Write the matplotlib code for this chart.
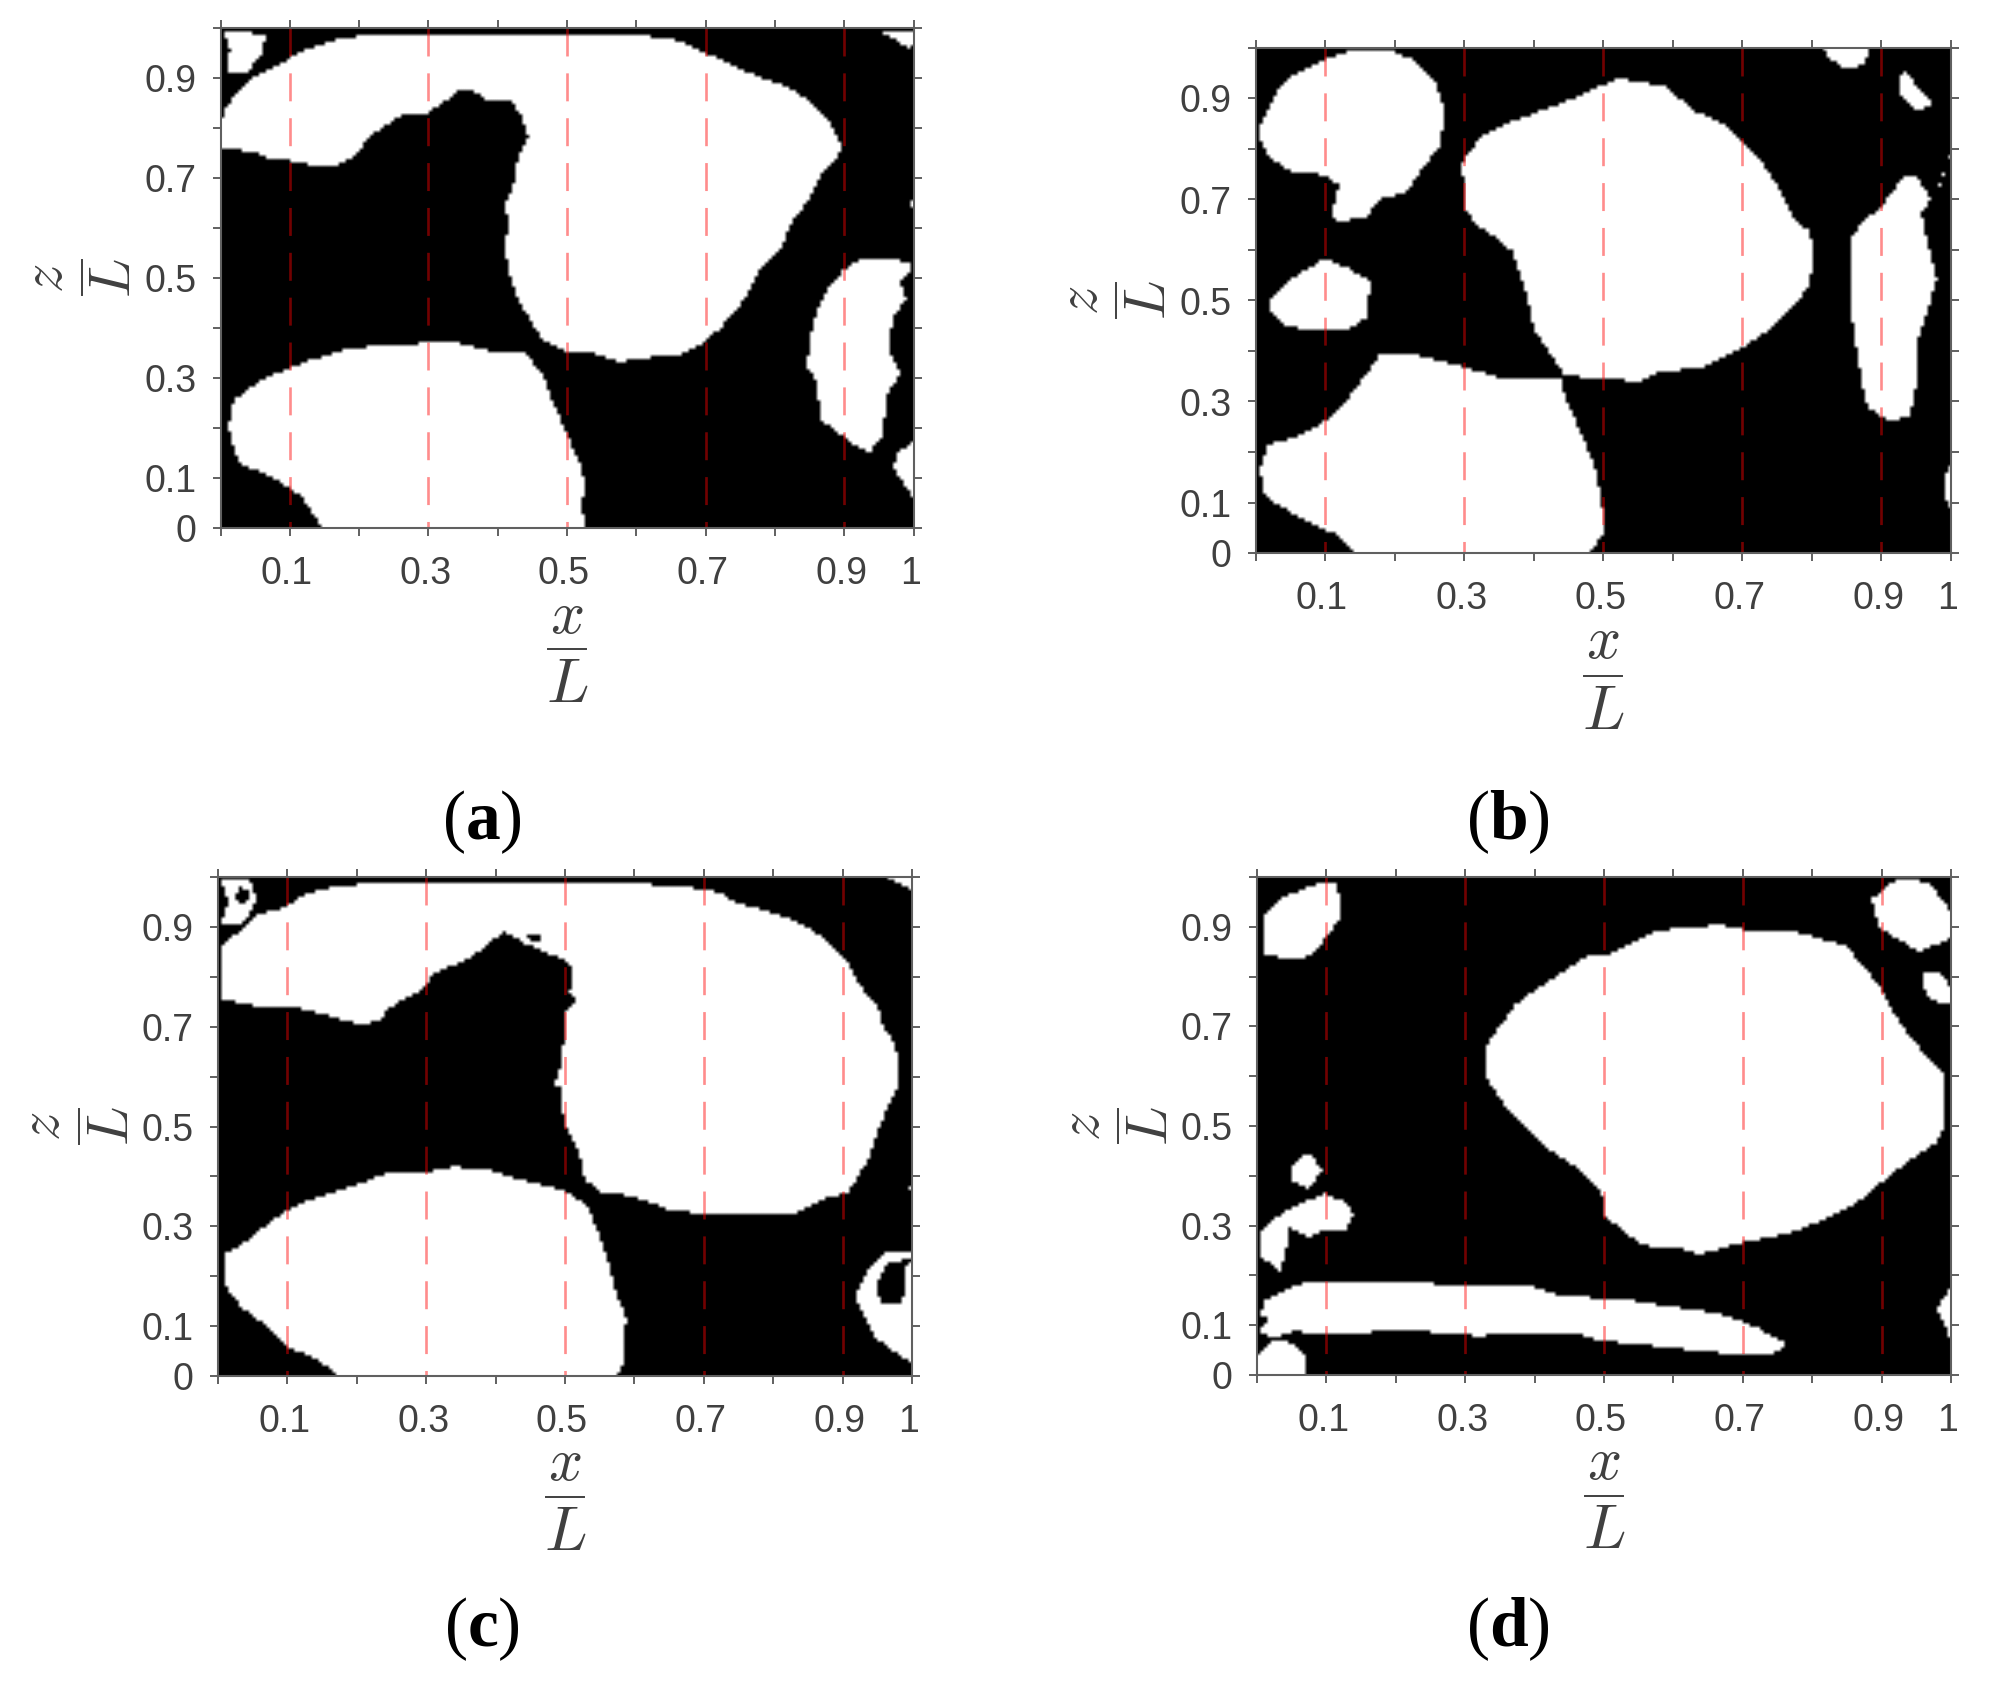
import matplotlib
matplotlib.use("Agg")
import matplotlib.pyplot as plt
from matplotlib.path import Path
from matplotlib.transforms import ScaledTranslation
import numpy as np

plt.rcParams["font.family"] = "Liberation Sans"
plt.rcParams["mathtext.fontset"] = "custom"
plt.rcParams["mathtext.bf"] = "Liberation Serif:bold"
plt.rcParams["mathtext.rm"] = "Liberation Serif"

GREY = "#404040"

# outlines of the white regions, in x/L , z/L
a_main = [(0,.757),(.049,.754),(.071,.737),(.097,.735),(.132,.726),(.163,.721),(.194,.743),(.212,.781),(.234,.801),(.260,.825),(.296,.827),(.322,.852),(.344,.874),(.371,.872),(.380,.854),(.419,.852),(.432,.830),(.443,.781),(.428,.737),(.422,.682),(.410,.644),(.415,.617),(.410,.551),(.419,.496),(.428,.458),(.446,.419),(.463,.376),(.499,.354),(.543,.348),(.574,.332),(.627,.343),(.662,.345),(.697,.370),(.719,.398),(.741,.430),(.763,.474),(.781,.524),(.808,.556),(.821,.606),(.847,.655),(.865,.704),(.887,.737),(.896,.765),(.878,.814),(.852,.852),(.821,.880),(.768,.907),(.733,.929),(.697,.951),(.653,.978),(.600,.986),(.212,.986),(.168,.978),(.119,.956),(.093,.934),(.053,.907),(.026,.874),(.004,.836),(0,.803)]
a_low = [(.147,0),(.132,.031),(.115,.064),(.093,.085),(.057,.113),(.026,.129),(.016,.168),(.011,.206),(.019,.255),(.044,.283),(.071,.304),(.097,.319),(.132,.337),(.185,.359),(.229,.365),(.300,.370),(.344,.370),(.388,.354),(.437,.352),(.463,.310),(.481,.244),(.499,.189),(.516,.135),(.525,.091),(.521,.047),(.525,0)]
a_right = [(.900,.518),(.918,.534),(.953,.540),(.997,.531),(.997,.518),(.980,.496),(.988,.458),(.971,.425),(.962,.365),(.980,.310),(.962,.266),(.953,.179),(.935,.151),(.913,.168),(.865,.217),(.860,.288),(.847,.321),(.848,.365),(.856,.419),(.878,.485)]
a_tl = [(.004,.995),(.066,.987),(.057,.945),(.035,.907),(.009,.907),(.013,.956)]
a_tr = [(.951,.995),(1,.995),(.997,.956),(.971,.978)]
a_br = [(1,.173),(.975,.151),(.971,.118),(.988,.085),(1,.053)]
a_edge = [(.992,.650),(1,.66),(1,.635)]

b_tl = [(.004,.840),(.013,.867),(.031,.916),(.053,.943),(.098,.976),(.133,.990),(.196,.992),(.231,.971),(.258,.933),(.271,.873),(.265,.802),(.240,.764),(.218,.715),(.178,.699),(.160,.666),(.116,.652),(.108,.672),(.120,.726),(.098,.748),(.053,.750),(.027,.775),(.009,.802)]
b_mid = [(.020,.498),(.044,.536),(.098,.582),(.133,.563),(.164,.536),(.160,.465),(.133,.443),(.080,.438),(.036,.454),(.020,.476)]
b_main = [(.295,.770),(.324,.824),(.364,.851),(.418,.878),(.467,.905),(.520,.938),(.587,.922),(.631,.873),(.676,.846),(.720,.786),(.751,.721),(.773,.661),(.796,.634),(.802,.574),(.791,.520),(.764,.476),(.729,.433),(.693,.400),(.640,.367),(.578,.357),(.551,.340),(.507,.343),(.444,.351),(.427,.384),(.400,.443),(.387,.520),(.369,.596),(.342,.626),(.316,.650),(.300,.683),(.298,.737)]
b_low = [(.140,0),(.116,.036),(.089,.052),(.044,.085),(.013,.112),(.006,.161),(.016,.215),(.053,.226),(.098,.259),(.124,.291),(.151,.340),(.178,.391),(.231,.391),(.298,.367),(.347,.348),(.436,.348),(.449,.291),(.471,.226),(.489,.161),(.502,.047),(.480,0)]
b_right = [(.853,.617),(.871,.655),(.898,.683),(.929,.742),(.951,.742),(.969,.699),(.956,.672),(.964,.617),(.978,.541),(.964,.476),(.951,.422),(.947,.313),(.938,.267),(.907,.264),(.880,.286),(.871,.335),(.858,.443),(.853,.541)]
b_top = [(.813,.998),(.880,.998),(.876,.965),(.844,.957),(.822,.982)]
b_spot = [(.923,.943),(.933,.949),(.969,.895),(.969,.880),(.947,.878),(.924,.911)]
b_edge = [(1,.183),(.987,.139),(.994,.090),(1,.090)]
b_dots = [(.978,.72),(.99,.75),(1,.80),(1,.79),(.985,.74),(.98,.71)]

c_main = [(.003,.751),(.040,.746),(.066,.735),(.119,.735),(.163,.719),(.198,.705),(.229,.708),(.251,.740),(.300,.778),(.308,.804),(.366,.837),(.396,.874),(.414,.888),(.445,.863),(.502,.831),(.511,.810),(.507,.767),(.515,.751),(.500,.724),(.496,.628),(.485,.585),(.496,.575),(.498,.511),(.520,.447),(.529,.393),(.555,.366),(.595,.361),(.648,.334),(.700,.324),(.753,.321),(.833,.326),(.877,.356),(.907,.366),(.934,.425),(.960,.521),(.982,.585),(.982,.628),(.969,.682),(.956,.703),(.952,.735),(.930,.772),(.907,.826),(.868,.879),(.833,.911),(.744,.949),(.727,.965),(.692,.975),(.612,.984),(.207,.984),(.154,.975),(.119,.959),(.097,.938),(.057,.922),(.035,.895),(.004,.858),(.003,.799)]
c_low = [(.176,0),(.145,.030),(.097,.062),(.070,.099),(.035,.137),(.013,.174),(.009,.244),(.035,.263),(.075,.308),(.110,.340),(.163,.366),(.198,.382),(.251,.409),(.304,.409),(.339,.418),(.383,.415),(.436,.393),(.498,.372),(.533,.340),(.559,.244),(.573,.169),(.588,.115),(.584,.025),(.575,0)]
c_right = [(1,.249),(.965,.249),(.938,.212),(.918,.160),(.934,.115),(.947,.078),(.982,.041),(1,.028)]
c_tl = [(.004,.995),(.044,.995),(.057,.954),(.035,.901),(.004,.906),(.015,.949)]
c_tr = [(.963,.997),(1,.997),(1,.972),(.982,.986)]
c_edge = [(.995,.38),(1,.38),(1,.36)]
# black patches inside the white regions of (c)
c_hole_right = [(1,.233),(.965,.228),(.947,.179),(.956,.147),(.987,.147),(.991,.217)]
c_hole_main = [(.445,.879),(.467,.887),(.467,.865),(.449,.869)]
c_hole_tl = [(.03,.98),(.045,.97),(.04,.94),(.025,.95)]

d_tl = [(.012,.923),(.034,.955),(.096,.989),(.114,.987),(.121,.950),(.118,.912),(.096,.870),(.078,.843),(.056,.832),(.012,.843)]
d_main = [(.329,.656),(.350,.699),(.372,.742),(.426,.795),(.475,.840),(.506,.843),(.577,.891),(.666,.902),(.711,.891),(.782,.886),(.849,.859),(.876,.816),(.902,.768),(.924,.710),(.969,.630),(.988,.603),(.989,.496),(.977,.464),(.933,.422),(.898,.384),(.862,.342),(.817,.310),(.764,.283),(.702,.267),(.639,.242),(.604,.256),(.559,.259),(.528,.288),(.501,.320),(.497,.368),(.461,.416),(.417,.454),(.363,.528),(.329,.598)]
d_strip = [(.012,.149),(.043,.171),(.074,.187),(.194,.185),(.301,.181),(.399,.176),(.444,.157),(.524,.153),(.586,.139),(.666,.123),(.719,.096),(.764,.061),(.742,.041),(.675,.043),(.595,.055),(.497,.069),(.452,.085),(.372,.085),(.319,.078),(.212,.091),(.105,.080),(.052,.088),(.025,.075),(.003,.085),(.016,.112),(.005,.123)]
d_corner = [(0,.037),(.025,.069),(.052,.064),(.069,.037),(.071,0),(0,0)]
d_hook = [(.003,.288),(.043,.331),(.096,.363),(.127,.347),(.139,.320),(.127,.291),(.096,.288),(.074,.277),(.043,.299),(.043,.261),(.034,.208),(.003,.240)]
d_small = [(.047,.416),(.074,.445),(.096,.411),(.074,.374),(.052,.390)]
d_tr = [(.886,.955),(.924,.996),(.968,.987),(1,.928),(.998,.875),(.955,.848),(.897,.896)]
d_r2 = [(.958,.806),(.987,.804),(1,.774),(1,.742),(.971,.752),(.962,.774)]
d_edge = [(1,.176),(.980,.135),(.998,.075)]

white_a = [a_main, a_low, a_right, a_tl, a_tr, a_br, a_edge]
white_b = [b_tl, b_mid, b_main, b_low, b_right, b_top, b_spot, b_edge, b_dots]
white_c = [c_main, c_low, c_right, c_tl, c_tr, c_edge]
black_c = [c_hole_right, c_hole_main, c_hole_tl]
white_d = [d_tl, d_main, d_strip, d_corner, d_hook, d_small, d_tr, d_r2, d_edge]

dash_x = [0.1, 0.3, 0.5, 0.7, 0.9]
ticks = [0, .1, .2, .3, .4, .5, .6, .7, .8, .9, 1]
xlabels = ["", "0.1", "", "0.3", "", "0.5", "", "0.7", "", "0.9", "1"]
ylabels = ["0", "0.1", "", "0.3", "", "0.5", "", "0.7", "", "0.9", ""]


def mask_from(white, black=()):
    # rasterise the outlines so the edges stay blocky like the original image
    xs = (np.arange(200) + .5) / 200
    ys = (np.arange(145) + .5) / 145
    X, Y = np.meshgrid(xs, ys)
    pts = np.column_stack([X.ravel(), Y.ravel()])
    m = np.zeros(X.size)
    for p in white:
        m[Path(p).contains_points(pts)] = 1
    for p in black:
        m[Path(p).contains_points(pts)] = 0
    return m.reshape(X.shape)


def panel(pos, white, black, letter, letter_xy):
    L, T, R, B = pos
    W, H = 1989., 1685.
    ax = fig.add_axes([L/W, 1-B/H, (R-L)/W, (B-T)/H])
    ax.imshow(mask_from(white, black), cmap="gray", vmin=0, vmax=1, extent=[0, 1, 0, 1],
              origin="lower", aspect="auto", interpolation="bilinear")
    # drawn top to bottom so the first full dash sits at the top edge
    ax.vlines(dash_x, 1, 0, color=(1, 0, 0), alpha=.45, lw=1.9, linestyles=(0, (10.6, 6.4)))
    ax.set_xlim(0, 1)
    ax.set_ylim(0, 1)
    ax.set_xticks(ticks)
    ax.set_yticks(ticks)
    ax.set_xticklabels(xlabels)
    ax.set_yticklabels(ylabels)
    ax.tick_params(direction="out", length=5.5, width=1.4, color="#606060", labelcolor=GREY,
                   labelsize=27, top=True, right=True)
    ax.tick_params(axis="x", pad=15)
    ax.tick_params(axis="y", pad=12)
    # x labels sit a little left of their ticks in the original
    nudge = ScaledTranslation(-3/100, 0, fig.dpi_scale_trans)
    for t in ax.get_xticklabels():
        t.set_transform(t.get_transform() + nudge)
    for s in ax.spines.values():
        s.set_color("#606060")
        s.set_linewidth(1.5)
    # fraction labels: parts placed one by one, the original spreads them wider than \frac does
    ax.text(.5, -.178, r"$x$", transform=ax.transAxes, fontsize=43, color=GREY,
            ha="center", va="center", math_fontfamily="cm")
    ax.plot([.473, .527], [-.243, -.243], transform=ax.transAxes, color=GREY, lw=1.4, clip_on=False)
    ax.text(.5, -.315, r"$L$", transform=ax.transAxes, fontsize=45, color=GREY,
            ha="center", va="center", math_fontfamily="cm")
    ax.text(-.25, .5, r"$z$", transform=ax.transAxes, fontsize=42, color=GREY,
            ha="center", va="center", rotation=90, math_fontfamily="cm")
    ax.plot([-.2, -.2], [.465, .535], transform=ax.transAxes, color=GREY, lw=1.4, clip_on=False)
    ax.text(-.152, .5, r"$L$", transform=ax.transAxes, fontsize=42, color=GREY,
            ha="center", va="center", rotation=90, math_fontfamily="cm")
    ax.set_xlim(0, 1)
    ax.set_ylim(0, 1)
    fig.text(letter_xy[0]/W, 1-letter_xy[1]/H, "($\\mathbf{" + letter + "}$)", fontsize=50,
             family="Liberation Serif", color="black", ha="center", va="center")


fig = plt.figure(figsize=(19.89, 16.85), dpi=100)
panel((220.5, 28, 913.5, 528), white_a, [], "a", (482, 822))
panel((1255.5, 48, 1951, 553), white_b, [], "b", (1508, 822))
panel((218, 877, 912, 1376), white_c, black_c, "c", (482, 1629))
panel((1257, 877, 1951, 1375), white_d, [], "d", (1508, 1629))
fig.savefig("out.png", dpi=100)
